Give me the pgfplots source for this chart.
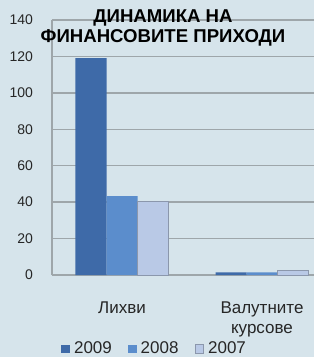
\documentclass[border=0pt]{standalone}
\usepackage{fontspec}
\setmainfont{Liberation Sans}
\usepackage{pgfplots}
\pgfplotsset{compat=1.18}
\definecolor{bg}{HTML}{D6E4EB}
\definecolor{cA}{HTML}{3E6AA8}
\definecolor{cB}{HTML}{5B8DCC}
\definecolor{cC}{HTML}{B9C9E6}
\definecolor{gridc}{HTML}{9EA6AA}
\begin{document}
\begin{tikzpicture}[x=0.5pt,y=0.5pt]
\useasboundingbox (-52,-82) rectangle (262,275);
\fill[bg] (-52,-82) rectangle (262,275);
\begin{scope}
\clip (-52,-82) rectangle (262,275);
\begin{axis}[at={(0,0)}, anchor=south west,
  width=140pt, height=127.5pt, scale only axis,
  xmin=-0.5, xmax=1.5, ymin=0, ymax=140,
  ytick={0,20,...,140}, xtick={0,1},
  xticklabels={Лихви,{Валутните\\курсове}},
  /pgf/number format/assume math mode=true,
  ymajorgrids, grid style={gridc, line width=0.7pt},
  axis lines*=left, axis line style={gridc, line width=0.7pt},
  major tick length=0pt,
  yticklabel style={font=\fontsize{7}{8}\selectfont, text=black!85, xshift=-6pt},
  xticklabel style={font=\fontsize{8.5}{10}\selectfont, text=black!85, align=center, yshift=-10pt},
  ybar=0pt, bar width=15.5pt,
  legend style={at={(0.37,-0.29)}, anchor=center, draw=none, fill=none,
    font=\fontsize{8.5}{10}\selectfont, text=black!85, legend columns=3,
    /tikz/every even column/.append style={column sep=6pt}},
  legend image code/.code={\path[#1] (0pt,-2.2pt) rectangle (4.4pt,2.2pt);},
]
\addplot[fill=cA, draw=none] coordinates {(0,119) (1,1.5)};
\addplot[fill=cB, draw=none] coordinates {(0,43.3) (1,1.5)};
\addplot[fill=cC, draw=cC!75!black] coordinates {(0,40.6) (1,2.5)};
\legend{2009,2008,2007}
\end{axis}
\node[align=center, font=\bfseries\fontsize{9.3}{10}\selectfont, inner sep=0pt] at (111,247) {ДИНАМИКА НА\\ФИНАНСОВИТЕ ПРИХОДИ};
\end{scope}
\end{tikzpicture}
\end{document}
